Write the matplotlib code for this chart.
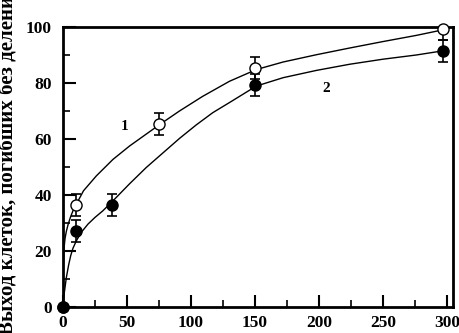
import matplotlib
matplotlib.use("Agg")
import matplotlib.pyplot as plt
from matplotlib.ticker import MultipleLocator

# measured points
x1 = [0, 10, 75, 150, 297]
y1 = [0, 36.4, 65.3, 85.3, 99.3]
e1 = [0, 4, 4, 4, 4]
x2 = [0, 10, 38, 150, 297]
y2 = [0, 27.2, 36.4, 79.3, 91.4]
e2 = [0, 4, 4, 4, 4]

# fitted curves
cx1 = [0, 0.3, 0.8, 1.6, 2.6, 4, 6, 8, 10.4, 16, 26, 39, 52, 75, 91, 109,
       130, 151, 172, 198, 224, 250, 276, 297]
cy1 = [0, 15, 21, 24.5, 27, 29.5, 32.3, 34.6, 36.7, 41.5, 46.8, 52.7, 57.5,
       65, 70, 75.2, 80.6, 84.8, 87.5, 90.1, 92.5, 94.8, 97, 99]
cx2 = [0, 1, 2.6, 4.4, 6, 7.8, 10.4, 14, 19.5, 25, 31, 39, 52, 65, 78, 91,
       104, 117, 130, 151, 172, 198, 224, 250, 276, 297]
cy2 = [0, 5, 10.5, 15, 18.3, 21, 23.6, 26.5, 29.6, 32, 34.3, 37.9, 44, 49.8,
       55, 60.2, 65, 69.4, 73, 78.9, 81.9, 84.5, 86.7, 88.5, 90, 91.5]

curve_labels = ["1", "2"]
label_pos_x = [48.4, 205.5]
label_pos_y = [64.6, 78.2]

xticks = [0, 50, 100, 150, 200, 250, 300]
yticks = [0, 20, 40, 60, 80, 100]
ylabel = "Выход клеток, погибших без деления"

plt.rcParams['font.family'] = ['Liberation Serif', 'DejaVu Serif']
plt.rcParams['font.weight'] = 'bold'

fig = plt.figure(figsize=(4.6, 3.33), dpi=100)
ax = fig.add_axes([63/460, 26/333, 390/460, 280/333])

ax.plot(cx1, cy1, color='black', lw=1.0, zorder=2)
ax.plot(cx2, cy2, color='black', lw=1.0, zorder=2)

ax.errorbar(x1, y1, yerr=e1, fmt='none', ecolor='black', elinewidth=1.2,
            capsize=3.5, capthick=1.2, zorder=3)
ax.errorbar(x2, y2, yerr=e2, fmt='none', ecolor='black', elinewidth=1.2,
            capsize=3.5, capthick=1.2, zorder=3)
ax.plot(x1, y1, 'o', mfc='white', mec='black', mew=1.0, ms=8, zorder=4,
        clip_on=False)
ax.plot(x2, y2, 'o', mfc='black', mec='black', mew=1.0, ms=8, zorder=5,
        clip_on=False)

for t, xx, yy in zip(curve_labels, label_pos_x, label_pos_y):
    ax.text(xx, yy, t, ha='center', va='center', fontsize=11, fontweight='bold')

ax.set_xlim(0, 304.7)
ax.set_ylim(0, 100)
ax.set_xticks(xticks)
ax.set_yticks(yticks)
ax.xaxis.set_minor_locator(MultipleLocator(25))
ax.yaxis.set_minor_locator(MultipleLocator(10))
ax.tick_params(which='major', direction='in', length=9, width=1.5,
               labelsize=12.5)
ax.tick_params(axis='x', which='major', pad=6)
ax.tick_params(axis='y', which='major', pad=8)
ax.tick_params(which='minor', direction='in', length=5, width=1.2)
ax.tick_params(axis='y', which='both', right=False)
ax.tick_params(axis='x', which='both', top=False)
for lab in ax.get_xticklabels() + ax.get_yticklabels():
    lab.set_fontweight('bold')
for s in ax.spines.values():
    s.set_linewidth(2)

fig.text(-0.004, -0.006, ylabel, rotation=90, ha='left', va='bottom',
         fontsize=15, fontweight='bold')

fig.savefig("out.png", dpi=100)
